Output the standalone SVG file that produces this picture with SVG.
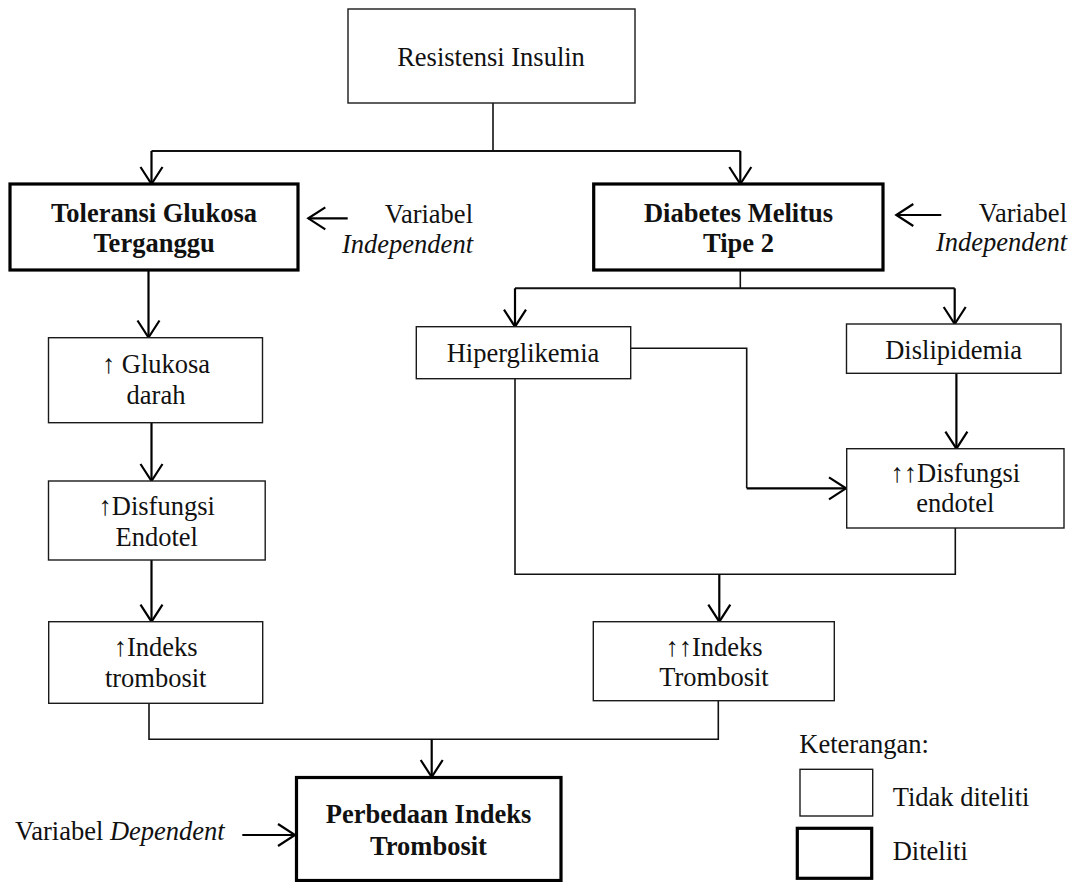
<svg xmlns="http://www.w3.org/2000/svg" width="1077" height="882" viewBox="0 0 1077 882">
<style>
  .box { fill: #fff; stroke: #1a1a1a; stroke-width: 1.4; }
  .bold { fill: #fff; stroke: #000; stroke-width: 3.2; }
  .t { font-family: "Liberation Serif", "Times New Roman", "DejaVu Serif", serif; font-size: 26.5px; fill: #111; text-anchor: middle; }
  .tb { font-weight: bold; }
  .it { font-style: italic; }
  .l { text-anchor: start; }
  .r { text-anchor: end; }
  .c { fill: none; stroke: #111; stroke-width: 1.6; }
  .a { fill: none; stroke: #000; stroke-width: 2.2; marker-end: url(#arr); }
</style>
<defs>
  <marker id="arr" markerUnits="userSpaceOnUse" viewBox="-1 -1 20 24" markerWidth="20" markerHeight="24" refX="17" refY="11" orient="auto" overflow="visible">
    <path d="M0,0 L17,11 L0,22" fill="none" stroke="#000" stroke-width="2.2"/>
  </marker>
</defs>
<rect width="1077" height="882" fill="#fff"/>

<g id="connectors">
  <path class="c" d="M493,103 V151"/>
  <path class="c" d="M151.5,151 H740.3" style="stroke-width:2"/>
  <path class="a" d="M151.5,151 V184"/>
  <path class="a" d="M740.3,151 V184"/>
  <path class="a" d="M148.5,270 V337.5"/>
  <path class="a" d="M151.5,422.7 V481"/>
  <path class="a" d="M151.5,560 V621.7"/>
  <path class="c" d="M149,703.3 V739.3 H718.3 V700.7"/>
  <path class="a" d="M431.7,739.3 V777"/>
  <path class="c" d="M740.3,270 V288.3"/>
  <path class="c" d="M515,288.3 H954.7" style="stroke-width:2"/>
  <path class="a" d="M515,288.3 V326.7"/>
  <path class="a" d="M954.7,288.3 V324"/>
  <path class="c" d="M630.7,348.3 H746.7 V488.3"/>
  <path class="a" d="M746.7,488.3 H846"/>
  <path class="a" d="M956.4,373.3 V448.7"/>
  <path class="c" d="M515,378.7 V574.3 H955.3 V528"/>
  <path class="a" d="M719.3,574.3 V621.7"/>
  <path class="a" d="M347.7,218.3 H308.3"/>
  <path class="a" d="M941.3,215 H896.3"/>
  <path class="a" d="M242.3,835 H295"/>
</g>

<g id="resistensi">
  <rect class="box" x="348" y="9" width="287" height="94"/>
  <text class="t" x="491" y="66">Resistensi Insulin</text>
</g>

<g id="tgt">
  <rect class="bold" x="10" y="184" width="288" height="86"/>
  <text class="t tb" x="154" y="222">Toleransi Glukosa</text>
  <text class="t tb" x="154" y="252">Terganggu</text>
</g>
<g id="label-indep-left">
  <text class="t r" x="473" y="223">Variabel</text>
  <text class="t r it" x="473" y="253">Independent</text>
</g>

<g id="dm2">
  <rect class="bold" x="593.7" y="184" width="289.3" height="86"/>
  <text class="t tb" x="738.5" y="222">Diabetes Melitus</text>
  <text class="t tb" x="738.5" y="252">Tipe 2</text>
</g>
<g id="label-indep-right">
  <text class="t r" x="1067" y="222">Variabel</text>
  <text class="t r it" x="1067" y="251">Independent</text>
</g>

<g id="glukosa">
  <rect class="box" x="48.5" y="337.7" width="214" height="85"/>
  <text class="t" x="156" y="373">↑ Glukosa</text>
  <text class="t" x="156" y="404">darah</text>
</g>

<g id="endotel-left">
  <rect class="box" x="48.5" y="481" width="216.7" height="79"/>
  <text class="t" x="156.7" y="515">↑Disfungsi</text>
  <text class="t" x="156.7" y="545.5">Endotel</text>
</g>

<g id="indeks-left">
  <rect class="box" x="48.7" y="621.7" width="214" height="81.6"/>
  <text class="t" x="155.7" y="656">↑Indeks</text>
  <text class="t" x="155.7" y="686.5">trombosit</text>
</g>

<g id="hiperglikemia">
  <rect class="box" x="416.3" y="326.7" width="214.4" height="52"/>
  <text class="t" x="523" y="361.5">Hiperglikemia</text>
</g>

<g id="dislipidemia">
  <rect class="box" x="846.5" y="324" width="214.5" height="49.3"/>
  <text class="t" x="953.7" y="359.3">Dislipidemia</text>
</g>

<g id="endotel-right">
  <rect class="box" x="846.7" y="448.7" width="217.3" height="79.3"/>
  <text class="t" x="955.3" y="481.7">↑↑Disfungsi</text>
  <text class="t" x="955.3" y="511.7">endotel</text>
</g>

<g id="indeks-right">
  <rect class="box" x="593.3" y="621.7" width="241" height="79"/>
  <text class="t" x="714" y="655.7">↑↑Indeks</text>
  <text class="t" x="714" y="686">Trombosit</text>
</g>

<g id="perbedaan">
  <rect class="bold" x="296.5" y="777.5" width="264.5" height="103"/>
  <text class="t tb" x="428.5" y="823">Perbedaan Indeks</text>
  <text class="t tb" x="428.5" y="855">Trombosit</text>
</g>
<g id="label-dep">
  <text class="t l" x="15" y="840">Variabel <tspan class="it">Dependent</tspan></text>
</g>

<g id="legend">
  <text class="t l" x="799.3" y="752.7">Keterangan:</text>
  <rect class="box" x="800" y="769.3" width="72.7" height="46.7"/>
  <text class="t l" x="892.7" y="806">Tidak diteliti</text>
  <rect class="bold" x="797.3" y="828.3" width="74.4" height="50"/>
  <text class="t l" x="892.7" y="860">Diteliti</text>
</g>
</svg>
